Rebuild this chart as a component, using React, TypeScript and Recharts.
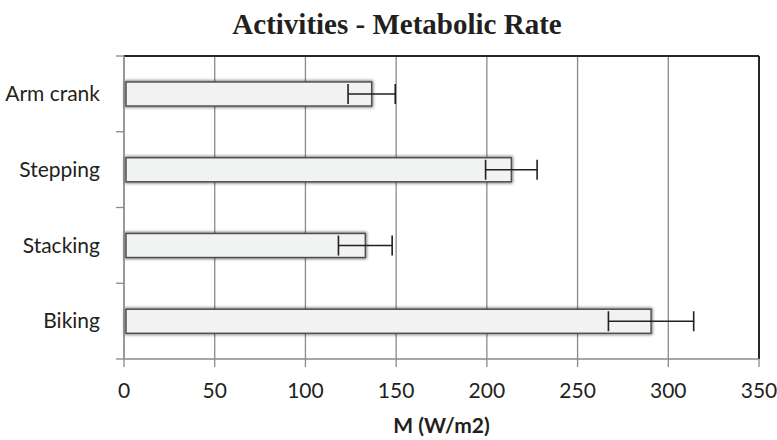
import { Bar, BarChart, CartesianGrid, ErrorBar, XAxis, YAxis } from 'recharts'

const activities = ['Arm crank', 'Stepping', 'Stacking', 'Biking']
const metabolicRate = [136.5, 213.5, 133, 290.5]
const rateError = [13, 14.2, 14.8, 23.5]
const xTicks = [0, 50, 100, 150, 200, 250, 300, 350]

const data = activities.map((name, i) => ({ name, rate: metabolicRate[i], err: rateError[i] }))

const gray = '#8a8a8a'
const ink = '#231f20'
const border = '#262626'
const tickSize = 8
const tickMargin = 16

const BarShape = (props: any) => {
	const { x, y, width, height } = props
	return (
		<g>
			<rect x={x + 2} y={y} width={width - 2} height={height} fill="none" stroke="#000" strokeWidth={3} opacity={0.55} filter="url(#barShadow)" />
			<rect x={x + 2} y={y} width={width - 2} height={height} fill="#f1f2f2" stroke="#4d4d4d" strokeWidth={1.4} />
		</g>
	)
}

// category label plus Excel-style tick marks on the band edges
const CategoryTick = (props: any) => {
	const { x, y, payload, index, visibleTicksCount } = props
	const half = payload?.offset ?? 0
	const lineX = x + tickSize + tickMargin
	return (
		<g>
			<line x1={lineX - tickSize} x2={lineX} y1={y - half} y2={y - half} stroke={gray} strokeWidth={1.3} />
			{index === visibleTicksCount - 1 && (
				<line x1={lineX - tickSize} x2={lineX} y1={y + half} y2={y + half} stroke={gray} strokeWidth={1.3} />
			)}
			<text x={x} y={y} dy="0.35em" textAnchor="end" style={{ fontFamily: 'Lato', fontSize: 21, fill: ink }}>
				{payload.value}
			</text>
		</g>
	)
}

export default function App() {
	return (
		<div style={{ position: 'absolute', left: 0, top: 0, width: 777, height: 440, background: '#fff' }}>
			<svg width={777} height={440} style={{ position: 'absolute', left: 0, top: 0, pointerEvents: 'none' }}>
				<defs>
					<filter id="barShadow" x="-10%" y="-50%" width="120%" height="200%">
						<feGaussianBlur stdDeviation={1.5} />
					</filter>
				</defs>
				<text
					x={397}
					y={34}
					textAnchor="middle"
					style={{ fontFamily: 'Liberation Serif', fontWeight: 700, fontSize: 29, fill: ink }}
				>
					Activities - Metabolic Rate
				</text>
			</svg>
			<BarChart
				width={777}
				height={440}
				data={data}
				layout="vertical"
				margin={{ top: 56, right: 18, bottom: 0, left: 0 }}
				barSize={24}
				style={{ position: 'absolute', left: 0, top: 0 }}
			>
				<CartesianGrid horizontal={false} stroke={gray} strokeWidth={1.3} />
				<CartesianGrid
					vertical={false}
					stroke={border}
					strokeWidth={2}
					horizontalCoordinatesGenerator={({ offset }: any) => [offset.top]}
				/>
				<CartesianGrid
					horizontal={false}
					stroke={border}
					strokeWidth={2}
					verticalCoordinatesGenerator={({ offset }: any) => [offset.left + offset.width]}
				/>
				<XAxis
					type="number"
					domain={[0, 350]}
					ticks={xTicks}
					height={81}
					tickSize={tickSize}
					tickMargin={tickMargin}
					tick={{ fontFamily: 'Lato', fontSize: 21, fill: ink }}
					axisLine={{ stroke: gray, strokeWidth: 1.3 }}
					tickLine={{ stroke: gray, strokeWidth: 1.3 }}
					label={{
						value: 'M (W/m2)',
						position: 'insideBottom',
						offset: 7,
						style: { fontFamily: 'Lato', fontWeight: 700, fontSize: 21, fill: ink },
					}}
				/>
				<YAxis
					type="category"
					dataKey="name"
					width={124}
					tickSize={tickSize}
					tickMargin={tickMargin}
					tick={<CategoryTick />}
					axisLine={{ stroke: gray, strokeWidth: 1.3 }}
					tickLine={false}
				/>
				<Bar dataKey="rate" shape={BarShape} isAnimationActive={false}>
					<ErrorBar dataKey="err" direction="x" width={10} stroke={ink} strokeWidth={1.6} isAnimationActive={false} />
				</Bar>
			</BarChart>
		</div>
	)
}
